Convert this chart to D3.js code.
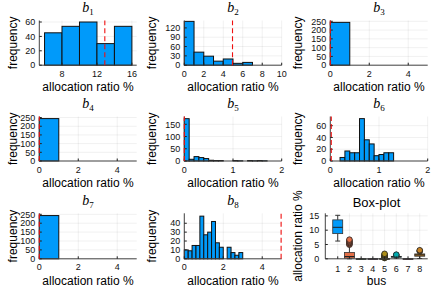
<!DOCTYPE html>
<html><head><meta charset="utf-8">
<script src="https://cdn.jsdelivr.net/npm/d3@7"></script>
<style>body{margin:0;background:#fff}svg{display:block}text{font-family:"Liberation Sans",Arial,sans-serif}</style>
</head><body><svg id="c" width="436" height="291"></svg>
<script>
// ---------- data ----------
const b1Bins = [6, 8, 10, 12, 14, 16];
const b1Counts = [45, 54, 60, 30, 54];
const b2Bins = [0, 1, 2, 3, 4, 5, 6, 7];
const b2Counts = [141, 42, 29, 13, 20, 6, 9];
const b3Bins = [0, 1];
const b3Counts = [244];
const b4Bins = [0, 1];
const b4Counts = [244];
const b5Bins = [0, 0.1, 0.2, 0.3, 0.4, 0.5, 0.6, 0.7, 0.8, 0.9, 1.0, 1.1, 1.2, 1.3, 1.4, 1.5, 1.6, 1.7];
const b5Counts = [173, 7, 18, 14, 10, 3, 2, 2, 0, 0, 2, 1, 0, 2, 1, 2, 1];
const b6Bins = [0.2, 0.3, 0.4, 0.5, 0.6, 0.7, 0.8, 0.9, 1.0, 1.1, 1.2, 1.3];
const b6Counts = [6, 17, 14, 14, 72, 36, 29, 9, 11, 14, 14];
const b7Bins = [0, 1];
const b7Counts = [243];
const b8Bins = [0, 0.2, 0.4, 0.6, 0.8, 1.0, 1.2, 1.4, 1.6, 1.8, 2.0, 2.2, 2.4, 2.6, 2.8, 3.0];
const b8Counts = [10, 9, 15, 15, 48, 27, 30, 42, 18, 13, 0, 13, 7, 4, 7];
const thresholds = [12.9, 4.95, 0, 0, 0, 0.02, 0, 4.97];

const b1XTicks = [8, 12, 16], b1YTicks = [0, 20, 40, 60];
const b2XTicks = [0, 2, 4, 6, 8, 10], b2YTicks = [0, 30, 60, 90, 120];
const flatXTicks = [0, 2, 4], flatYTicks = [0, 50, 100, 150, 200, 250];
const b5XTicks = [0, 1, 2], b5YTicks = [0, 50, 100, 150];
const b6XTicks = [0, 1, 2], b6YTicks = [0, 20, 40, 60];
const b8XTicks = [0, 2, 4], b8YTicks = [0, 10, 20, 30, 40];

// box plot statistics per bus
const buses = [1, 2, 3, 4, 5, 6, 7, 8];
const boxQ1 = [8.8, 0.25, 0, 0, 0.02, 0.55, 0, 0.9];
const boxMedian = [11.0, 0.8, 0, 0, 0.04, 0.7, 0, 1.35];
const boxQ3 = [13.6, 2.2, 0.03, 0.03, 0.07, 0.85, 0.03, 1.7];
const boxLow = [6.2, 0, 0, 0, 0, 0.25, 0, 0.1];
const boxHigh = [15.2, 4.7, 0.05, 0.05, 0.12, 1.15, 0.05, 2.5];
const boxOutliers = [[], [4.9, 5.2, 5.5, 5.8, 6.1, 6.4, 6.7], [], [], [0.25, 0.4, 0.55, 0.7, 0.85, 1.05, 1.3, 1.5, 1.75], [1.25, 1.35, 1.45], [], [2.6, 2.8, 3.0]];
const boxYTicks = [0, 5, 10, 15];
const palette = ["#009AFA", "#E36F47", "#3EA44E", "#C371D2", "#AC8E18", "#00AAAE", "#ED5E93", "#C68225"];

// ---------- layout ----------
const svg = d3.select("#c");
const colL = [39.3, 184.3, 330.3], plotW = 97.4;
const ylabX = [12.5, 152, 298];
const rowT = [20.5, 116.5, 213.3], rowB = [65.2, 161, 258.8];

function frame(g, x, y, xTicks, yTicks, x0, x1, y0, y1) {
  g.selectAll(".gx").data(xTicks).join("line")
    .attr("x1", d => x(d)).attr("x2", d => x(d)).attr("y1", y0).attr("y2", y1)
    .attr("stroke", "#000").attr("stroke-opacity", 0.1).attr("stroke-width", 0.6);
  g.selectAll(".gy").data(yTicks).join("line")
    .attr("x1", x0).attr("x2", x1).attr("y1", d => y(d)).attr("y2", d => y(d))
    .attr("stroke", "#000").attr("stroke-opacity", 0.1).attr("stroke-width", 0.6);
}
function axes(g, x, y, xTicks, yTicks, x0, x1, y0, y1, xlabDy, ylabGap) {
  g.append("line").attr("x1", x0).attr("x2", x1).attr("y1", y0).attr("y2", y0).attr("stroke", "#444").attr("stroke-width", 1);
  g.append("line").attr("x1", x0).attr("x2", x0).attr("y1", y0).attr("y2", y1).attr("stroke", "#444").attr("stroke-width", 1);
  g.selectAll(null).data(xTicks).join("line")
    .attr("x1", d => x(d)).attr("x2", d => x(d)).attr("y1", y0).attr("y2", y0 - 2.5)
    .attr("stroke", "#222").attr("stroke-width", 1);
  g.selectAll(null).data(yTicks).join("line")
    .attr("x1", x0).attr("x2", x0 + 2.5).attr("y1", d => y(d)).attr("y2", d => y(d))
    .attr("stroke", "#222").attr("stroke-width", 1);
  g.selectAll(null).data(xTicks).join("text")
    .attr("x", d => x(d)).attr("y", y0 + xlabDy).attr("text-anchor", "middle")
    .attr("font-size", 9).attr("fill", "#111").text(d => d);
  g.selectAll(null).data(yTicks).join("text")
    .attr("x", x0 - ylabGap).attr("y", d => y(d) + 3.2).attr("text-anchor", "end")
    .attr("font-size", 9).attr("fill", "#111").text(d => d);
}
function titleB(g, cx, baseline, idx) {
  const t = g.append("text").attr("x", cx).attr("y", baseline).attr("text-anchor", "middle")
    .style("font-family", "'Liberation Serif','DejaVu Serif',serif").attr("font-size", 14);
  t.append("tspan").attr("font-style", "italic").text("b");
  t.append("tspan").attr("font-size", 9).attr("dy", 3).text(idx);
}

function hist(col, row, bins, counts, xDom, yMax, xTicks, yTicks, thr, idx) {
  const x0 = colL[col], x1 = colL[col] + plotW, yb = rowB[row], yt = rowT[row];
  const x = d3.scaleLinear().domain(xDom).range([x0, x1]);
  const y = d3.scaleLinear().domain([0, yMax]).range([yb, yt]);
  const g = svg.append("g");
  frame(g, x, y, xTicks, yTicks, x0, x1, yb, yt);
  const data = counts.map((c, i) => ({a: bins[i], b: bins[i + 1], c}));
  g.selectAll(".bar").data(data).join("rect")
    .attr("x", d => x(d.a)).attr("width", d => x(d.b) - x(d.a))
    .attr("y", d => y(d.c)).attr("height", d => y(0) - y(d.c))
    .attr("fill", "#009AFA").attr("stroke", "#111").attr("stroke-width", 1);
  axes(g, x, y, xTicks, yTicks, x0, x1, yb, yt, 11.5, 4);
  g.append("line").attr("x1", x(thr)).attr("x2", x(thr)).attr("y1", yb).attr("y2", yt)
    .attr("stroke", "#f01010").attr("stroke-width", 1.1).attr("stroke-dasharray", "5,3");
  const cx = (x0 + x1) / 2;
  titleB(g, cx, yt - 8.5, idx);
  g.append("text").attr("x", cx).attr("y", yb + 26).attr("text-anchor", "middle").attr("font-size", 12).text("allocation ratio %");
  g.append("text").attr("transform", `translate(${ylabX[col] + 4},${(yt + yb) / 2}) rotate(-90)`)
    .attr("text-anchor", "middle").attr("font-size", 12).text("frequency");
}

hist(0, 0, b1Bins, b1Counts, [5.4, 16.55], 62.1, b1XTicks, b1YTicks, thresholds[0], "1");
hist(1, 0, b2Bins, b2Counts, [0, 10], 143.8, b2XTicks, b2YTicks, thresholds[1], "2");
hist(2, 0, b3Bins, b3Counts, [0, 5], 254.6, flatXTicks, flatYTicks, thresholds[2], "3");
hist(0, 1, b4Bins, b4Counts, [0, 5], 256, flatXTicks, flatYTicks, thresholds[3], "4");
hist(1, 1, b5Bins, b5Counts, [0, 2], 181.9, b5XTicks, b5YTicks, thresholds[4], "5");
hist(2, 1, b6Bins, b6Counts, [0, 2], 75.6, b6XTicks, b6YTicks, thresholds[5], "6");
hist(0, 2, b7Bins, b7Counts, [0, 5], 255.7, flatXTicks, flatYTicks, thresholds[6], "7");
hist(1, 2, b8Bins, b8Counts, [0, 5], 51.2, b8XTicks, b8YTicks, thresholds[7], "8");

// ---------- box plot ----------
(function () {
  const x0 = 325.3, x1 = 427.7, yb = rowB[2], yt = rowT[2];
  const x = d3.scaleLinear().domain([-0.06, 8.68]).range([x0, x1]);
  const y = d3.scaleLinear().domain([0, 15.9]).range([yb, yt]);
  const g = svg.append("g");
  frame(g, x, y, buses, boxYTicks, x0, x1, yb, yt);
  const bw = x(0.85) - x(0), cw = bw / 2;
  buses.forEach((b, i) => {
    const cx = x(b), col = palette[i];
    g.append("line").attr("x1", cx).attr("x2", cx).attr("y1", y(boxQ3[i])).attr("y2", y(boxHigh[i])).attr("stroke", "#333").attr("stroke-width", 1);
    g.append("line").attr("x1", cx).attr("x2", cx).attr("y1", y(boxQ1[i])).attr("y2", y(boxLow[i])).attr("stroke", "#333").attr("stroke-width", 1);
    g.append("line").attr("x1", cx - cw / 2).attr("x2", cx + cw / 2).attr("y1", y(boxHigh[i])).attr("y2", y(boxHigh[i])).attr("stroke", "#333").attr("stroke-width", 1);
    g.append("line").attr("x1", cx - cw / 2).attr("x2", cx + cw / 2).attr("y1", y(boxLow[i])).attr("y2", y(boxLow[i])).attr("stroke", "#333").attr("stroke-width", 1);
    g.append("rect").attr("x", cx - bw / 2).attr("width", bw)
      .attr("y", y(boxQ3[i])).attr("height", Math.max(0.8, y(boxQ1[i]) - y(boxQ3[i])))
      .attr("fill", col).attr("stroke", "#333").attr("stroke-width", 0.8);
    g.append("line").attr("x1", cx - bw / 2).attr("x2", cx + bw / 2).attr("y1", y(boxMedian[i])).attr("y2", y(boxMedian[i])).attr("stroke", "#222").attr("stroke-width", 1);
    g.selectAll(null).data(boxOutliers[i]).join("circle")
      .attr("cx", cx).attr("cy", d => y(d)).attr("r", 2.8)
      .attr("fill", col).attr("stroke", "#222").attr("stroke-width", 0.8);
  });
  axes(g, x, y, buses, boxYTicks, x0, x1, yb, yt, 13.5, 6);
  const cx = (x0 + x1) / 2;
  g.append("text").attr("x", cx).attr("y", yt - 6.5).attr("text-anchor", "middle").attr("font-size", 13).text("Box-plot");
  g.append("text").attr("x", cx).attr("y", yb + 26).attr("text-anchor", "middle").attr("font-size", 12).text("bus");
  g.append("text").attr("transform", `translate(${ylabX[2] + 4},${(yt + yb) / 2}) rotate(-90)`)
    .attr("text-anchor", "middle").attr("font-size", 12).text("allocation ratio %");
})();
</script></body></html>
